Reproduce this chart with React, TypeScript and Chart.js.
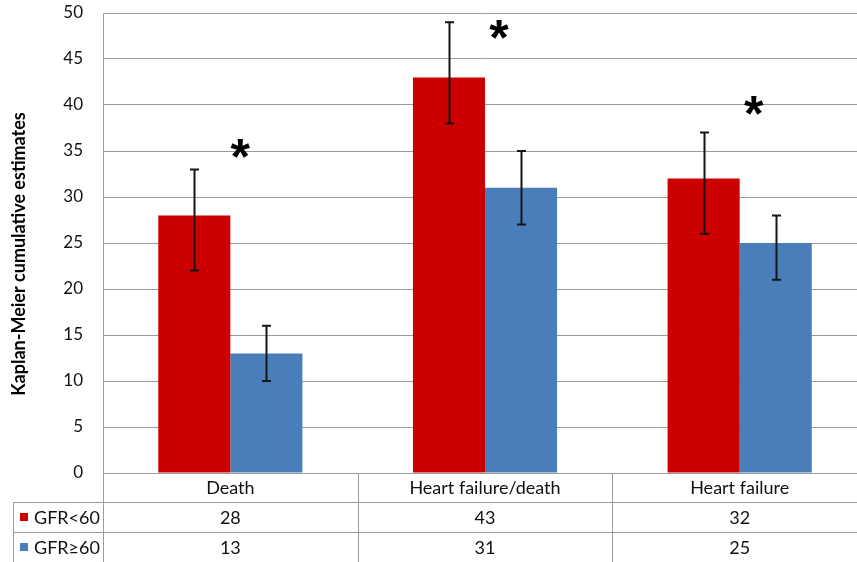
import React, { useEffect, useRef } from "react";
import { Chart, registerables } from "chart.js";

Chart.register(...registerables);

const categories = ["Death", "Heart failure/death", "Heart failure"];
const seriesNames = ["GFR<60", "GFR≥60"];
const gfrLow = [28, 43, 32];
const gfrHigh = [13, 31, 25];
const gfrLowErrLo = [22, 38, 26];
const gfrLowErrHi = [33, 49, 37];
const gfrHighErrLo = [10, 27, 21];
const gfrHighErrHi = [16, 35, 28];
const starValues = [35.3, 48.2, 40];
const yTicks = [0, 5, 10, 15, 20, 25, 30, 35, 40, 45, 50];

const RED = "#CC0000";
const BLUE = "#4A7EBB";
const GRID = "#9C9C9C";
const FONT = "Lato";

export default function App() {
  const ref = useRef<HTMLCanvasElement>(null);

  useEffect(() => {
    document.body.style.margin = "0";
    const canvas = ref.current!;
    const errs = [
      [gfrLowErrLo, gfrLowErrHi],
      [gfrHighErrLo, gfrHighErrHi],
    ];
    const overlay = {
      id: "overlay",
      afterDatasetsDraw(chart: any) {
        const ctx = chart.ctx;
        const y = chart.scales.y;
        const x = chart.scales.x;
        ctx.save();
        ctx.strokeStyle = "#151515";
        ctx.lineWidth = 2;
        for (let d = 0; d < 2; d++) {
          const meta = chart.getDatasetMeta(d);
          meta.data.forEach((el: any, i: number) => {
            const cx = Math.round(el.x) + 0.5;
            const y1 = y.getPixelForValue(errs[d][0][i]);
            const y2 = y.getPixelForValue(errs[d][1][i]);
            ctx.beginPath();
            ctx.moveTo(cx, y1);
            ctx.lineTo(cx, y2);
            ctx.moveTo(cx - 4.5, y1);
            ctx.lineTo(cx + 4.5, y1);
            ctx.moveTo(cx - 4.5, y2);
            ctx.lineTo(cx + 4.5, y2);
            ctx.stroke();
          });
        }
        ctx.fillStyle = "#000";
        ctx.font = "bold 50px 'Liberation Sans'";
        ctx.textAlign = "center";
        ctx.textBaseline = "alphabetic";
        const m = ctx.measureText("*");
        const asc = m.actualBoundingBoxAscent;
        const desc = m.actualBoundingBoxDescent;
        const offs = [10, 14, 14];
        starValues.forEach((v, i) => {
          const cx = x.getPixelForValue(i) + offs[i];
          const cy = y.getPixelForValue(v);
          ctx.fillText("*", cx, cy + (asc - desc) / 2);
        });
        ctx.restore();
      },
      afterDraw(chart: any) {
        const ctx = chart.ctx;
        const area = chart.chartArea;
        const x = chart.scales.x;
        const bottom = 562;
        const r1 = area.bottom;
        const r2 = 502;
        const r3 = 532;
        const tableLeft = 13;
        ctx.save();
        ctx.strokeStyle = GRID;
        ctx.lineWidth = 1;
        const vline = (px: number, a: number, b: number) => {
          ctx.beginPath();
          ctx.moveTo(Math.round(px) + 0.5, a);
          ctx.lineTo(Math.round(px) + 0.5, b);
          ctx.stroke();
        };
        const hline = (py: number, a: number, b: number) => {
          ctx.beginPath();
          ctx.moveTo(a, py + 0.5);
          ctx.lineTo(b, py + 0.5);
          ctx.stroke();
        };
        vline(area.left, r1, bottom);
        for (let i = 1; i < categories.length; i++) {
          const bx = (x.getPixelForValue(i - 1) + x.getPixelForValue(i)) / 2;
          vline(bx, r1, bottom);
        }
        hline(r2, tableLeft, chart.width);
        hline(r3, tableLeft, chart.width);
        vline(tableLeft, r2, bottom);

        ctx.fillStyle = "#111";
        ctx.font = `18px ${FONT}`;
        ctx.textAlign = "center";
        ctx.textBaseline = "middle";
        categories.forEach((c, i) => {
          const cx = x.getPixelForValue(i);
          ctx.fillText(c, cx, (r1 + r2) / 2 + 1);
          ctx.fillText(String(gfrLow[i]), cx, (r2 + r3) / 2 + 1);
          ctx.fillText(String(gfrHigh[i]), cx, (r3 + bottom) / 2 + 1);
        });
        const rows = [(r2 + r3) / 2, (r3 + bottom) / 2];
        const cols = [RED, BLUE];
        rows.forEach((ry, k) => {
          ctx.fillStyle = cols[k];
          ctx.fillRect(20, Math.round(ry) - 4, 8, 8);
          ctx.fillStyle = "#111";
          ctx.textAlign = "left";
          ctx.fillText(seriesNames[k], 34, ry + 1);
        });
        ctx.save();
        ctx.translate(19, 254);
        ctx.rotate(-Math.PI / 2);
        ctx.font = `bold 18px ${FONT}`;
        ctx.textAlign = "center";
        ctx.textBaseline = "middle";
        ctx.fillStyle = "#000";
        ctx.fillText("Kaplan-Meier cumulative estimates", 0, 0);
        ctx.restore();
        ctx.restore();
      },
    };

    const chart = new Chart(canvas, {
      type: "bar",
      data: {
        labels: categories,
        datasets: [
          {
            label: seriesNames[0],
            data: gfrLow,
            backgroundColor: RED,
            categoryPercentage: 0.566,
            barPercentage: 1,
          },
          {
            label: seriesNames[1],
            data: gfrHigh,
            backgroundColor: BLUE,
            categoryPercentage: 0.566,
            barPercentage: 1,
          },
        ],
      },
      options: {
        responsive: false,
        animation: false,
        layout: { padding: { top: 13, bottom: 89, left: 0, right: 0 } },
        plugins: { legend: { display: false }, tooltip: { enabled: false } },
        scales: {
          x: {
            ticks: { display: false },
            grid: { display: false },
            border: { display: true, color: GRID },
            afterFit: (s: any) => {
              s.height = 0;
              s.paddingLeft = 0;
              s.paddingRight = 0;
            },
          },
          y: {
            min: 0,
            max: 50,
            afterBuildTicks: (s: any) => {
              s.ticks = yTicks.map((v) => ({ value: v }));
            },
            ticks: {
              color: "#111",
              font: { family: FONT, size: 17 },
              padding: 20,
            },
            grid: { color: GRID, drawTicks: false },
            border: { display: true, color: GRID },
            afterFit: (s: any) => {
              s.width = 103;
              s.paddingTop = 0;
              s.paddingBottom = 0;
            },
          },
        },
      },
      plugins: [overlay],
    });
    return () => chart.destroy();
  }, []);

  return (
    <div style={{ width: 857, height: 562, overflow: "hidden", position: "relative" }}>
      <canvas ref={ref} width={867} height={562} style={{ display: "block", width: 867, height: 562 }} />
    </div>
  );
}
